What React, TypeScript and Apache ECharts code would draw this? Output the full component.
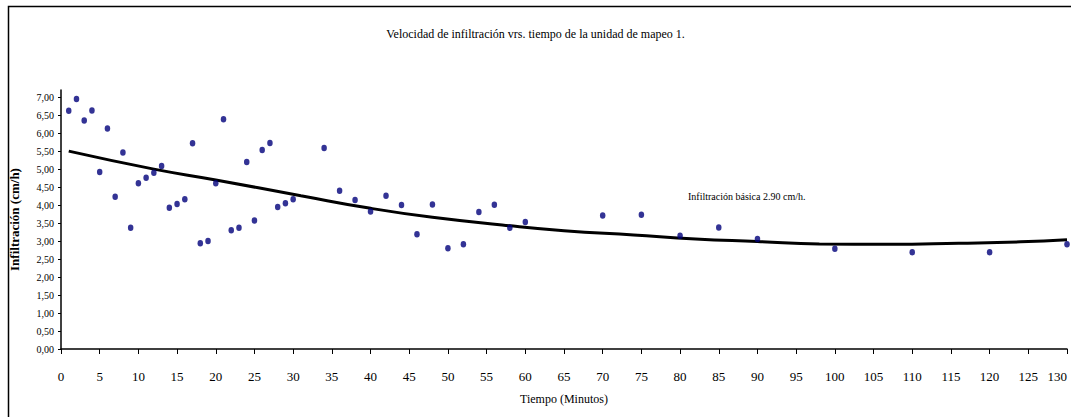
import React, { useEffect, useRef } from "react";
import * as echarts from "echarts";

const titleText = "Velocidad de infiltración vrs. tiempo de la unidad de mapeo 1.";
const xAxisName = "Tiempo (Minutos)";
const yAxisName = "Infiltración (cm/h)";
const noteText = "Infiltración básica 2.90 cm/h.";

// Observed points: time (min) and infiltration (cm/h)
const times = [1, 2, 3, 4, 5, 6, 7, 8, 9, 10, 11, 12, 13, 14, 15, 16, 17, 18, 19, 20, 21, 22, 23, 24, 25, 26, 27, 28, 29, 30, 34, 36, 38, 40, 42, 44, 46, 48, 50, 52, 54, 56, 58, 60, 70, 75, 80, 85, 90, 100, 110, 120, 130];
const rates = [6.62, 6.95, 6.35, 6.63, 4.92, 6.13, 4.23, 5.46, 3.37, 4.61, 4.76, 4.9, 5.09, 3.93, 4.03, 4.16, 5.72, 2.94, 3.0, 4.61, 6.39, 3.3, 3.37, 5.2, 3.57, 5.53, 5.73, 3.95, 4.05, 4.16, 5.59, 4.4, 4.14, 3.82, 4.26, 4.0, 3.19, 4.02, 2.8, 2.91, 3.81, 4.01, 3.37, 3.53, 3.71, 3.73, 3.15, 3.38, 3.06, 2.79, 2.69, 2.69, 2.91];

// Trend curve
const trendTimes = [1, 12, 20, 31, 40, 48, 57, 65, 74, 82, 90, 98, 107, 116, 124, 130];
const trendRates = [5.5, 5.0, 4.7, 4.26, 3.91, 3.66, 3.45, 3.29, 3.17, 3.06, 2.99, 2.92, 2.91, 2.94, 2.98, 3.04];

const yTickValues = [0, 0.5, 1, 1.5, 2, 2.5, 3, 3.5, 4, 4.5, 5, 5.5, 6, 6.5, 7];

const serif = "Liberation Serif";

export default function App() {
  const ref = useRef<HTMLDivElement>(null);
  useEffect(() => {
    if (!ref.current) return;
    const chart = echarts.init(ref.current, null, { renderer: "svg" });
    const points = times.map((t, i) => [t, rates[i]]);
    const trend = trendTimes.map((t, i) => [t, trendRates[i]]);
    chart.setOption({
      animation: false,
      backgroundColor: "#ffffff",
      textStyle: { fontFamily: serif },
      title: {
        text: titleText,
        left: "center",
        top: 23,
        textStyle: { fontFamily: serif, fontSize: 12, fontWeight: "normal", color: "#000" },
      },
      graphic: [
        {
          type: "rect",
          left: 6,
          top: 4,
          shape: { width: 1200, height: 600 },
          style: { fill: "none", stroke: "#000", lineWidth: 1.5 },
          silent: true,
          z: 0,
        },
        {
          type: "text",
          left: 688,
          top: 191,
          style: { text: noteText, fontFamily: serif, fontSize: 10, fill: "#000" },
        },
      ],
      grid: { left: 61, right: 4, top: 90, bottom: 68, containLabel: false, outerBoundsMode: "none" },
      xAxis: {
        type: "value",
        min: 0,
        max: 130,
        interval: 5,
        name: xAxisName,
        nameLocation: "middle",
        nameGap: 44,
        nameTextStyle: { fontFamily: serif, fontSize: 12, color: "#000" },
        axisLine: { show: true, lineStyle: { color: "#000", width: 1.5 } },
        axisTick: { show: true, inside: false, length: 5, lineStyle: { color: "#000", width: 1 } },
        axisLabel: { fontFamily: serif, fontSize: 13, color: "#000", margin: 21, alignMaxLabel: "right" },
        splitLine: { show: false },
      },
      yAxis: {
        type: "value",
        min: 0,
        max: 7.2,
        name: yAxisName,
        nameLocation: "middle",
        nameGap: 40,
        nameRotate: 90,
        nameTextStyle: { fontFamily: serif, fontSize: 13, fontWeight: "bold", color: "#000" },
        axisLine: { show: true, lineStyle: { color: "#000", width: 1.5 } },
        axisTick: { show: true, inside: false, length: 3, customValues: yTickValues, lineStyle: { color: "#000", width: 1 } },
        axisLabel: {
          fontFamily: serif,
          fontSize: 10,
          color: "#000",
          margin: 7,
          customValues: yTickValues,
          formatter: (v: number) => v.toFixed(2).replace(".", ","),
        },
        splitLine: { show: false },
      },
      series: [
        {
          type: "line",
          data: trend,
          smooth: true,
          showSymbol: false,
          lineStyle: { color: "#000", width: 3 },
          z: 2,
        },
        {
          type: "scatter",
          data: points,
          symbol: "path://M0,-1A1,1 0 1,1 0,1A1,1 0 1,1 0,-1Z",
          symbolSize: [5.5, 6.5],
          itemStyle: { color: "#00007a" },
          clip: false,
          z: 3,
        },
      ],
    });
    return () => chart.dispose();
  }, []);
  return (
    <div
      ref={ref}
      style={{ position: "fixed", left: 0, top: 0, width: 1071, height: 417, background: "#fff" }}
    />
  );
}
